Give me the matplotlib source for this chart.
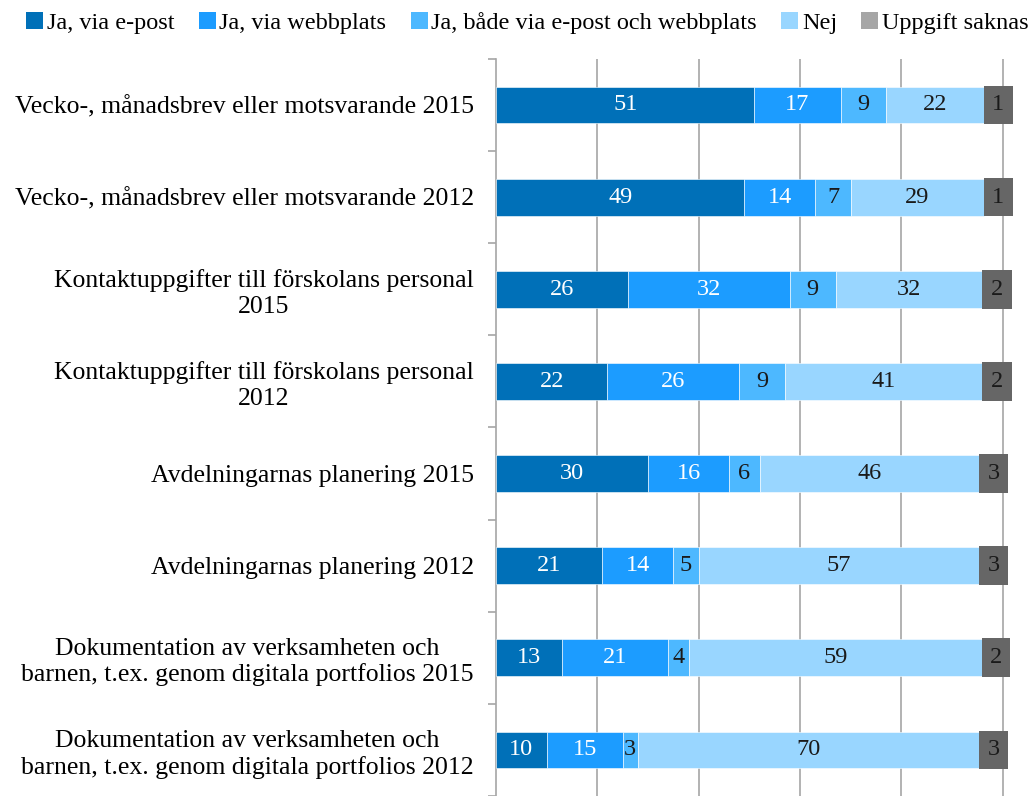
"""Stacked horizontal bars: information to parents, 2012 vs 2015."""
import numpy as np
import matplotlib
matplotlib.use("Agg")
import matplotlib.pyplot as plt
from matplotlib.patches import Patch

plt.rcParams['font.family'] = ['Liberation Serif', 'DejaVu Serif']

# categories, top to bottom
categories = [
    "Vecko-, månadsbrev eller motsvarande 2015",
    "Vecko-, månadsbrev eller motsvarande 2012",
    "Kontaktuppgifter till förskolans personal\n2015",
    "Kontaktuppgifter till förskolans personal\n2012",
    "Avdelningarnas planering 2015",
    "Avdelningarnas planering 2012",
    "Dokumentation av verksamheten och\nbarnen, t.ex. genom digitala portfolios 2015",
    "Dokumentation av verksamheten och\nbarnen, t.ex. genom digitala portfolios 2012",
]
series_names = ["Ja, via e-post", "Ja, via webbplats", "Ja, både via e-post och webbplats",
                "Nej", "Uppgift saknas"]

# printed data labels (percent)
epost = [51, 49, 26, 22, 30, 21, 13, 10]
webb = [17, 14, 32, 26, 16, 14, 21, 15]
bada = [9, 7, 9, 9, 6, 5, 4, 3]
nej = [22, 29, 32, 41, 46, 57, 59, 70]
saknas = [1, 1, 2, 2, 3, 3, 2, 3]

# drawn lengths of the last two segments as they appear in the picture
nej_len = [19.25, 26.25, 28.9, 38.9, 43.3, 55.3, 57.9, 67.3]
saknas_len = [5.75, 5.75, 5.9, 5.9, 5.7, 5.7, 5.6, 5.7]

colors = ["#0070B8", "#1C9CFF", "#4DB8FF", "#99D6FF", "#666666"]
legend_colors = colors[:4] + ["#A6A6A6"]
text_colors = ["white", "white", "#1a1a1a", "#1a1a1a", "#1a1a1a"]

fig = plt.figure(figsize=(10.34, 7.96), dpi=100)
ax = fig.add_axes([0.4797, 0.0, 0.5048, 0.926])

y = np.arange(len(categories))
drawn = [epost, webb, bada, nej_len, saknas_len]
shown = [epost, webb, bada, nej, saknas]
left = np.zeros(len(categories))
for i, (w, lab) in enumerate(zip(drawn, shown)):
    h = 0.42 if i == 4 else 0.40
    ax.barh(y, w, left=left, height=h, color=colors[i], edgecolor="white",
            linewidth=0.4 if i < 4 else 0, zorder=3)
    for yy, l, ww, v in zip(y, left, w, lab):
        ax.text(l + ww / 2, yy, str(v), ha="center", va="center",
                fontsize=17.5, color=text_colors[i], zorder=4)
    left = left + np.array(w)

ax.set_xlim(0, 103)
ax.set_ylim(len(categories) - 0.5, -0.5)
ax.set_xticks([20, 40, 60, 80, 100])
ax.set_xticklabels([])
ax.tick_params(axis="x", length=0)
ax.grid(axis="x", color="#A6A6A6", linewidth=1.2, zorder=0)

ax.set_yticks(y)
ax.set_yticklabels(categories, fontsize=18.5, multialignment="center")
ax.tick_params(axis="y", which="major", length=0, pad=16)
ax.set_yticks(np.arange(-0.5, len(categories)), minor=True)
ax.tick_params(axis="y", which="minor", length=6, color="#A6A6A6", width=1.2)

for s in ["top", "right", "bottom"]:
    ax.spines[s].set_visible(False)
ax.spines["left"].set_color("#A6A6A6")
ax.spines["left"].set_linewidth(1.2)

handles = [Patch(facecolor=c, edgecolor="none") for c in legend_colors]
fig.legend(handles, series_names, loc="upper center", bbox_to_anchor=(0.51, 1.012),
           ncol=5, frameon=False, fontsize=17.5, handlelength=0.7, handleheight=0.7,
           handletextpad=0.15, columnspacing=1.0)

fig.savefig("out.png", dpi=100)
